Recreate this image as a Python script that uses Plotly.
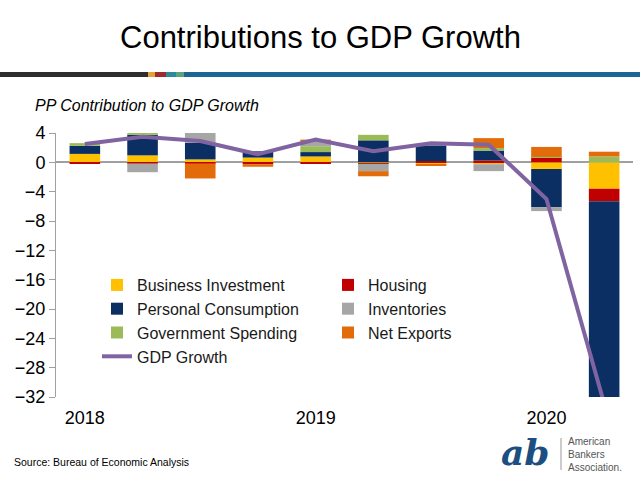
import plotly.graph_objects as go

# ---------------- data ----------------
quarters = ['2018Q1', '2018Q2', '2018Q3', '2018Q4', '2019Q1',
            '2019Q2', '2019Q3', '2019Q4', '2020Q1', '2020Q2']
year_tick_quarters = ['2018Q1', '2019Q1', '2020Q1']
year_tick_labels = ['2018', '2019', '2020']
y_tick_values = [4, 0, -4, -8, -12, -16, -20, -24, -28, -32]

business_investment = [1.15, 0.95, 0.40, 0.65, 0.80, -0.10, -0.30, -0.25, -0.90, -3.60]
housing = [-0.20, -0.15, -0.15, -0.25, -0.10, -0.10, 0.15, 0.25, 0.65, -1.70]
personal_consumption = [1.10, 2.80, 2.25, 0.85, 0.60, 3.00, 2.15, 1.35, -5.20, -27.50]
government_spending = [0.37, 0.30, 0.00, 0.00, 0.80, 0.75, 0.00, 0.35, 0.10, 0.80]
inventories = [0.00, -1.20, 1.50, 0.00, 0.60, -1.00, 0.00, -0.95, -0.55, -4.00]
net_exports = [0.00, 0.00, -2.05, -0.35, 0.30, -0.70, -0.12, 1.35, 1.35, 0.65]
gdp_growth = [2.5, 3.5, 2.9, 1.1, 3.1, 1.5, 2.6, 2.4, -5.0, -32.9]

# ---------------- layout geometry (pixels) ----------------
W, H = 640, 480
L, R, T, B = 56, 7, 133, 83
PW, PH = W - L - R, H - T - B


def fx(px):
    return (px - L) / PW


def fy(py):
    return (H - B - py) / PH


FONT = 'Arial, Liberation Sans, Helvetica, sans-serif'

fig = go.Figure()

series = [
    ('Business Investment', business_investment, '#FFC000', 'legend'),
    ('Housing', housing, '#C00000', 'legend2'),
    ('Personal Consumption', personal_consumption, '#0B2F63', 'legend'),
    ('Government Spending', government_spending, '#9BBB59', 'legend'),
    ('Inventories', inventories, '#A6A6A6', 'legend2'),
    ('Net Exports', net_exports, '#E36C0A', 'legend2'),
]
for name, vals, col, leg in series:
    fig.add_trace(go.Bar(x=quarters, y=vals, name=name, marker_color=col,
                         marker_line_width=0, width=0.53, legend=leg))

fig.add_trace(go.Scatter(x=quarters, y=gdp_growth, name='GDP Growth', mode='lines',
                         line=dict(color='#8064A2', width=4), legend='legend'))

shapes = []
stripe = [(0, 148, '#2E2E2E'), (148, 155, '#E3A13B'), (155, 166, '#9B2B2C'),
          (166, 176, '#2D8A9C'), (176, 184, '#5DA47E'), (184, 640, '#1D6597')]
for x0, x1, c in stripe:
    shapes.append(dict(type='rect', xref='paper', yref='paper', x0=fx(x0), x1=fx(x1),
                       y0=fy(77), y1=fy(72), fillcolor=c, line_width=0, layer='above'))
shapes.append(dict(type='line', xref='paper', yref='paper', x0=fx(561), x1=fx(561),
                   y0=fy(470), y1=fy(438), line=dict(color='#999999', width=1)))

annotations = [
    dict(text='Contributions to GDP Growth', x=fx(320), y=fy(37), xref='paper', yref='paper',
         xanchor='center', yanchor='middle', showarrow=False,
         font=dict(family=FONT, size=31, color='#000000')),
    dict(text='<i>PP Contribution to GDP Growth</i>', x=fx(33), y=fy(105), xref='paper',
         yref='paper', xanchor='left', yanchor='middle', showarrow=False,
         font=dict(family=FONT, size=16, color='#000000')),
    dict(text='Source: Bureau of Economic Analysis', x=fx(12), y=fy(462), xref='paper',
         yref='paper', xanchor='left', yanchor='middle', showarrow=False,
         font=dict(family=FONT, size=10.5, color='#000000')),
    dict(text='<b><i>ab</i></b>', x=fx(525), y=fy(452), xref='paper', yref='paper',
         xanchor='center', yanchor='middle', showarrow=False,
         font=dict(family='DejaVu Serif, serif', size=36, color='#1B4F82')),
    dict(text='American<br>Bankers<br>Association.', x=fx(566), y=fy(454), xref='paper',
         yref='paper', xanchor='left', yanchor='middle', align='left', showarrow=False,
         font=dict(family=FONT, size=10, color='#555555')),
]

fig.update_layout(
    width=W, height=H,
    margin=dict(l=L, r=R, t=T, b=B, pad=0),
    paper_bgcolor='white', plot_bgcolor='white',
    barmode='relative', bargap=0.47,
    font=dict(family=FONT, color='#000000'),
    showlegend=True,
    legend=dict(x=fx(97), y=fy(268), xanchor='left', yanchor='top', traceorder='normal',
                bgcolor='rgba(0,0,0,0)', font=dict(family=FONT, size=16, color='#1A1A1A'),
                tracegroupgap=0, itemwidth=30),
    legend2=dict(x=fx(328), y=fy(268), xanchor='left', yanchor='top', traceorder='normal',
                 bgcolor='rgba(0,0,0,0)', font=dict(family=FONT, size=16, color='#1A1A1A'),
                 tracegroupgap=0, itemwidth=30),
    xaxis=dict(type='category', categoryorder='array', categoryarray=quarters,
               range=[-0.5, len(quarters) - 0.5], tickmode='array',
               tickvals=year_tick_quarters, ticktext=year_tick_labels, ticks='',
               showline=False, showgrid=False, zeroline=False,
               tickfont=dict(family=FONT, size=18, color='#000000'), ticklabelstandoff=8),
    yaxis=dict(range=[-32, 4], tickmode='array', tickvals=y_tick_values,
               showgrid=False, zeroline=True, zerolinecolor='#A0A0A0', zerolinewidth=1.5,
               showline=True, linecolor='#A0A0A0', linewidth=1, ticks='outside',
               ticklen=6, tickcolor='#A0A0A0',
               tickfont=dict(family=FONT, size=18, color='#000000')),
    shapes=shapes,
    annotations=annotations,
)

fig.write_html('out.html', config={'displayModeBar': False},
               post_script="document.body.style.margin='0';document.body.style.padding='0';")
